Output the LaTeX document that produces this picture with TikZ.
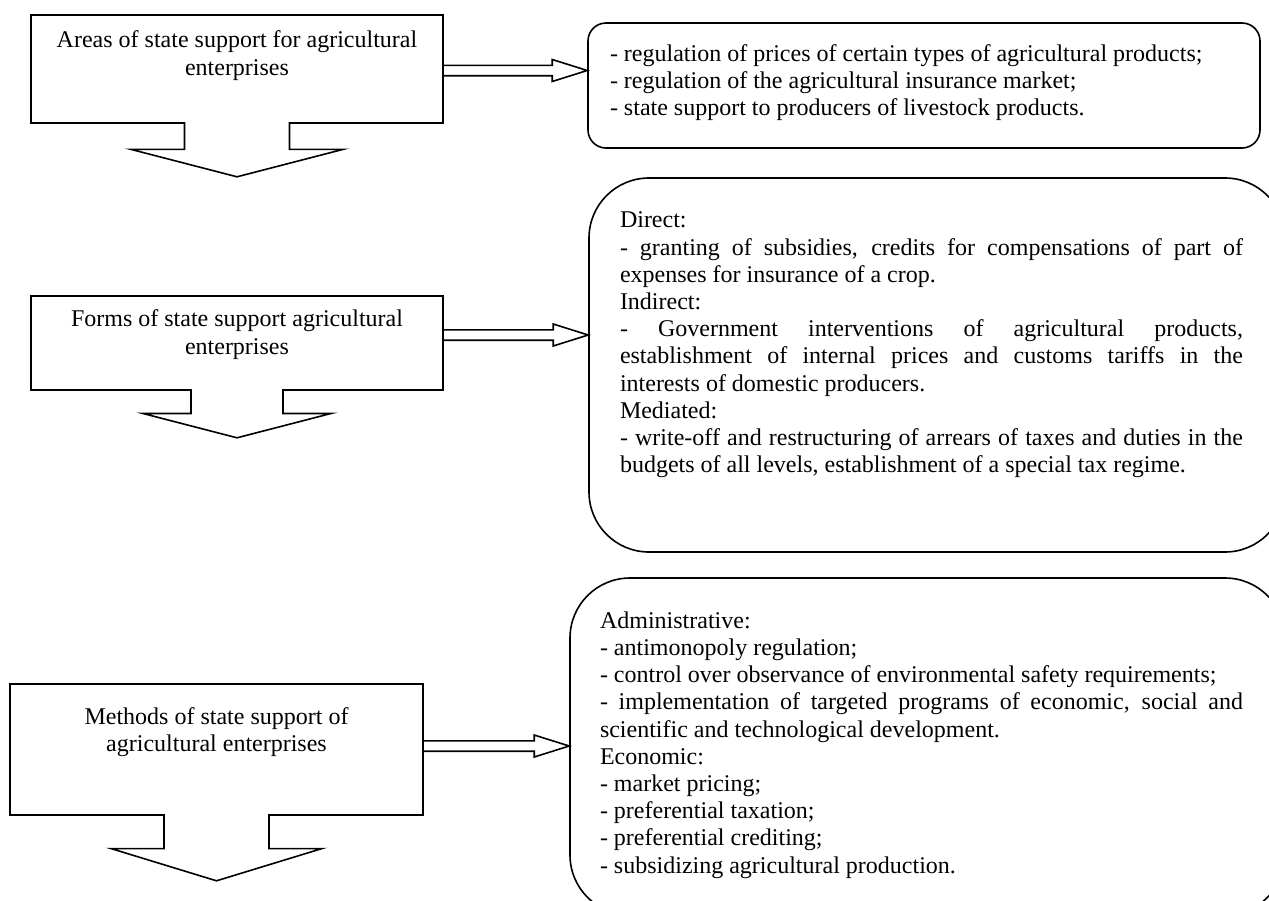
\documentclass[tikz,border=0pt]{standalone}
\usepackage{fontspec}
\setmainfont{Liberation Serif}
\usetikzlibrary{shapes.arrows,positioning,calc}

\begin{document}
\begin{tikzpicture}[x=0.5pt, y=-0.5pt, line width=0.8pt,
  every node/.style={font=\fontsize{12}{13.6}\selectfont, inner sep=0pt},
  leftbox/.style={arrow box, draw, minimum width=206pt,
    arrow box shaft width=52.5pt, arrow box head extend=26.75pt,
    arrow box tip angle=151},
  rightbox/.style={draw, rounded corners=#1},
  title/.style={align=center},
  list/.style={align=left},
  justified/.style={align=justify, text width=#1},
  hollow/.style={to path={let \p1=(\tikztostart), \p2=(\tikztotarget) in
    (\x1,{\y1+2.6pt}) -- ({\x2-17.5pt},{\y1+2.6pt}) -- ({\x2-17.5pt},{\y1+5.5pt})
    -- (\x2,\y1) -- ({\x2-17.5pt},{\y1-5.5pt}) -- ({\x2-17.5pt},{\y1-2.6pt})
    -- (\x1,{\y1-2.6pt})}}]
\useasboundingbox (0,0) rectangle (1269,900);
\clip (0,0) rectangle (1269,900);
\node[leftbox, minimum height=54pt,
  arrow box arrows={south:26.5pt from border}] (A) at (237,69) {};
\node[title, below=8pt of A.north] (At)
  {Areas of state support for agricultural\\enterprises};
\node[leftbox, minimum height=47pt, arrow box shaft width=46pt,
  arrow box head extend=24pt,
  arrow box arrows={south:23.5pt from border}] (B) at (237,343) {};
\node[title, below=7pt of B.north] (Bt)
  {Forms of state support agricultural\\enterprises};
\node[leftbox, minimum width=206.5pt, minimum height=65.5pt,
  arrow box head extend=26.5pt, arrow box tip angle=146,
  arrow box arrows={south:32.5pt from border}] (C) at (216.5,749.5) {};
\node[title, below=11.75pt of C.north] (Ct)
  {Methods of state support of\\agricultural enterprises};
\node[rightbox=9pt, minimum width=336pt, minimum height=62.5pt]
  (D) at (924,85.5) {};
\node[list, below right=10.75pt and 11pt of D.north west] (Dt)
  {- regulation of prices of certain types of agricultural products;\\
   - regulation of the agricultural insurance market;\\
   - state support to producers of livestock products.};
\node[rightbox=30pt, minimum width=348pt, minimum height=187pt]
  (E) at (937,365) {};
\node[justified=311.5pt, below right=17pt and 15.5pt of E.north west] (Et)
  {Direct:\\
   - granting of subsidies, credits for compensations of part of\linebreak
   expenses for insurance of a crop.\\
   Indirect:\\
   - Government interventions of agricultural products,\linebreak
   establishment of internal prices and customs tariffs in the\linebreak
   interests of domestic producers.\\
   Mediated:\\
   - write-off and restructuring of arrears of taxes and duties in the\linebreak
   budgets of all levels, establishment of a special tax regime.};
\node[rightbox=30pt, minimum width=357.5pt, minimum height=168.5pt]
  (F) at (927.5,746.5) {};
\node[justified=321.5pt, below right=16.8pt and 15pt of F.north west] (Ft)
  {Administrative:\\
   - antimonopoly regulation;\\
   - control over observance of environmental safety requirements;\\
   - implementation of targeted programs of economic, social and\linebreak
   scientific and technological development.\\
   Economic:\\
   - market pricing;\\
   - preferential taxation;\\
   - preferential crediting;\\
   - subsidizing agricultural production.};
\draw[hollow] ([yshift=-0.75pt]A.east) to (D.west);
\draw[hollow] ([yshift=4pt]B.east) to (E.west);
\draw[hollow] ([yshift=1.75pt]C.east) to (F.west);
\end{tikzpicture}
\end{document}
